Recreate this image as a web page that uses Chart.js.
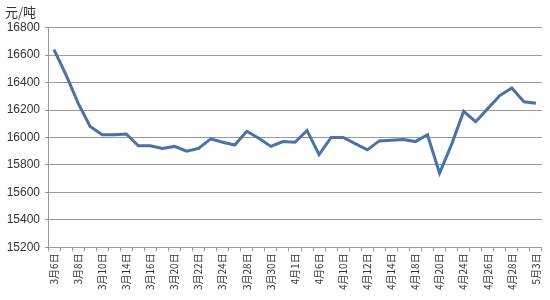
<!DOCTYPE html>
<html>
<head>
<meta charset="utf-8">
<script src="https://cdn.jsdelivr.net/npm/chart.js@4"></script>
<style>
  html, body { margin: 0; padding: 0; background: #fff; }
  #wrap { width: 550px; height: 300px; }
</style>
</head>
<body>
<div id="wrap"><canvas id="priceChart"></canvas></div>
<script>
// trading days, 2017-03-06 .. 2017-05-03
const dates = [
  '3月6日', '3月7日', '3月8日', '3月9日', '3月10日', '3月13日', '3月14日', '3月15日', '3月16日', '3月17日',
  '3月20日', '3月21日', '3月22日', '3月23日', '3月24日', '3月27日', '3月28日', '3月29日', '3月30日', '3月31日',
  '4月1日', '4月5日', '4月6日', '4月7日', '4月10日', '4月11日', '4月12日', '4月13日', '4月14日', '4月17日',
  '4月18日', '4月19日', '4月20日', '4月21日', '4月24日', '4月25日', '4月26日', '4月27日', '4月28日', '5月2日',
  '5月3日'
];
const prices = [
  16640, 16455, 16250, 16080, 16020, 16020, 16025, 15940, 15940, 15920,
  15935, 15900, 15920, 15990, 15965, 15945, 16045, 15995, 15935, 15970,
  15965, 16050, 15875, 16000, 16000, 15955, 15910, 15975, 15980, 15985,
  15970, 16020, 15740, 15950, 16190, 16115, 16210, 16305, 16360, 16260,
  16250
];
const yMin = 15200, yMax = 16800, yStep = 200;

const ctx = document.getElementById('priceChart').getContext('2d');
new Chart(ctx, {
  type: 'line',
  data: {
    labels: dates,
    datasets: [{
      data: prices,
      borderColor: '#4A72A6',
      borderWidth: 3,
      pointRadius: 0,
      tension: 0,
      fill: false
    }]
  },
  options: {
    responsive: true,
    maintainAspectRatio: false,
    animation: false,
    layout: { padding: { left: 5, right: 5, top: 0, bottom: 8 } },
    plugins: {
      legend: { display: false },
      tooltip: { enabled: false },
      title: {
        display: true,
        text: '元/吨',
        align: 'start',
        color: '#333',
        font: { family: 'Noto Sans CJK SC', size: 13, weight: 'normal' },
        padding: { top: 4, bottom: 8 }
      }
    },
    scales: {
      x: {
        offset: true,
        grid: {
          offset: true,
          drawOnChartArea: false,
          drawTicks: true,
          tickLength: 4,
          color: '#999'
        },
        border: { color: '#999' },
        ticks: {
          autoSkip: false,
          maxRotation: 90,
          minRotation: 90,
          padding: 2,
          color: '#333',
          font: { family: 'Noto Sans CJK SC', size: 10 },
          callback: function(value, index) {
            return index % 2 === 0 ? dates[index] : '';
          }
        }
      },
      y: {
        min: yMin,
        max: yMax,
        afterFit: function(scale) { scale.width = 43; },
        grid: {
          color: '#999',
          drawTicks: true,
          tickLength: 3
        },
        border: { color: '#999' },
        ticks: {
          stepSize: yStep,
          padding: 5,
          color: '#333',
          font: { family: 'Liberation Sans', size: 12 },
          callback: function(value) { return String(value); }
        }
      }
    }
  }
});
</script>
</body>
</html>
